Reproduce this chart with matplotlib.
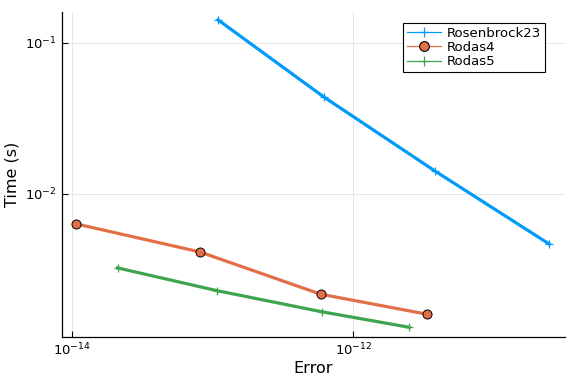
import matplotlib
matplotlib.use("Agg")
import matplotlib.pyplot as plt
from matplotlib.lines import Line2D
import numpy as np

series_names = ["Rosenbrock23", "Rodas4", "Rodas5"]
ros23_err = [1.09e-13, 6.18e-13, 3.81e-12, 2.47e-11]
ros23_time = [0.142, 0.0438, 0.01419, 0.00467]
rodas4_err = [1.07e-14, 8.1e-14, 5.86e-13, 3.33e-12]
rodas4_time = [0.00633, 0.00413, 0.00217, 0.0016]
rodas5_err = [2.1e-14, 1.07e-13, 5.96e-13, 2.5e-12]
rodas5_time = [0.00324, 0.00229, 0.00166, 0.00131]

colors = ["#009AFA", "#E36F47", "#3EA44E"]

fig = plt.figure(figsize=(5.76, 3.84), dpi=100)
ax = fig.add_axes([0.1076, 0.1224, 0.8734, 0.8466])

ax.plot(ros23_err, ros23_time, color=colors[0], lw=2.3, marker="+", ms=6,
        mew=0.9, label=series_names[0])
ax.plot(rodas4_err, rodas4_time, color=colors[1], lw=2.3, marker="o", ms=6.5,
        mfc=colors[1], mec="black", mew=0.7, label=series_names[1])
ax.plot(rodas5_err, rodas5_time, color=colors[2], lw=2.3, marker="+", ms=6,
        mew=0.9, label=series_names[2])

ax.set_xscale("log")
ax.set_yscale("log")
ax.set_xlim(10**-14.073, 10**-10.493)
ax.set_ylim(10**-2.947, 10**-0.795)

ax.set_xticks([1e-14, 1e-12])
ax.set_yticks([1e-2, 1e-1])
ax.xaxis.set_minor_locator(matplotlib.ticker.NullLocator())
ax.yaxis.set_minor_locator(matplotlib.ticker.NullLocator())
ax.tick_params(direction="in", length=4, width=0.8, labelsize=9.5, color="black")
ax.grid(True, color="#e6e6e6", lw=0.7)
ax.set_axisbelow(True)

for s in ["top", "right"]:
    ax.spines[s].set_visible(False)
for s in ["left", "bottom"]:
    ax.spines[s].set_linewidth(0.9)

ax.set_xlabel("Error", fontsize=11.5, labelpad=2)
ax.set_ylabel("Time (s)", fontsize=11.5, labelpad=4)

handles = [
    Line2D([], [], color=colors[0], lw=0.9, marker="+", ms=7, mew=0.9),
    Line2D([], [], color=colors[1], lw=0.9, marker="o", ms=7, mfc=colors[1], mec="black", mew=0.8),
    Line2D([], [], color=colors[2], lw=0.9, marker="+", ms=7, mew=0.9),
]
leg = ax.legend(handles, series_names, loc="upper right", bbox_to_anchor=(0.973, 0.987),
                fontsize=9.5, frameon=True, fancybox=False, edgecolor="black",
                framealpha=1, handlelength=2.6, borderpad=0.3, labelspacing=0.1,
                handletextpad=0.4)
leg.get_frame().set_linewidth(0.8)

fig.savefig("out.png", dpi=100)
